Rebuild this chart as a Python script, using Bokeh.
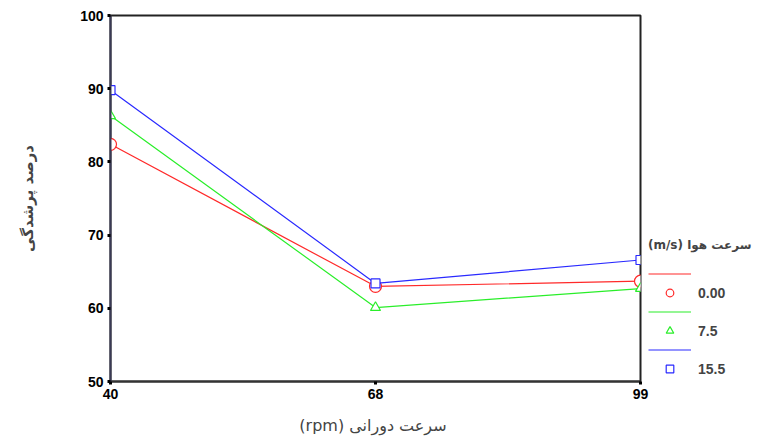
from bokeh.plotting import figure
from bokeh.models import Range1d, Legend, LegendItem, FixedTicker
from bokeh.embed import file_html
from bokeh.resources import INLINE

# data
rpm_labels = ["40", "68", "99"]
x_pos = [0, 1, 2]
air_speeds = ["0.00", "7.5", "15.5"]
fill_00 = [82.4, 63.0, 63.7]
fill_75 = [86.3, 60.1, 62.7]
fill_155 = [89.8, 63.4, 66.6]
series = [fill_00, fill_75, fill_155]
colors = ["#ff2a2a", "#2aee2a", "#2a2aff"]
markers = ["circle", "triangle", "square"]
msizes = [12, 10, 9]
y_ticks = [50, 60, 70, 80, 90, 100]

p = figure(frame_width=530, frame_height=366, output_backend="svg", toolbar_location=None,
           x_range=Range1d(0, 2), y_range=Range1d(50, 100),
           min_border_left=110, min_border_right=0, min_border_top=15, min_border_bottom=51)

p.grid.visible = False
p.outline_line_color = "#222222"
p.outline_line_width = 2

p.xaxis.ticker = FixedTicker(ticks=x_pos)
p.xaxis.major_label_overrides = {i: s for i, s in zip(x_pos, rpm_labels)}
p.yaxis.ticker = FixedTicker(ticks=y_ticks)
for ax in (p.xaxis, p.yaxis):
    ax.minor_tick_line_color = None
    ax.major_tick_in = 0
    ax.major_tick_out = 3
    ax.major_tick_line_width = 3
    ax.major_tick_line_color = "#000000"
    ax.axis_line_color = "#333333"
    ax.axis_line_width = 2
    ax.major_label_text_font = "Liberation Sans"
    ax.major_label_text_font_style = "bold"
    ax.major_label_text_font_size = "14px"
    ax.major_label_text_color = "#000000"
    ax.major_label_standoff = 4
p.yaxis.axis_line_color = "#3a3a55"

p.xaxis.axis_label = "(rpm)  سرعت دورانی"
p.xaxis.axis_label_text_font = "DejaVu Sans"
p.xaxis.axis_label_text_font_style = "normal"
p.xaxis.axis_label_text_font_size = "16px"
p.xaxis.axis_label_standoff = 14

p.yaxis.axis_label = "درصد پرشدگی"
p.yaxis.axis_label_text_font = "DejaVu Sans"
p.yaxis.axis_label_text_font_style = "bold"
p.yaxis.axis_label_text_font_size = "15px"
p.yaxis.axis_label_standoff = 40

items = []
for vals, c, m, s, lab in zip(series, colors, markers, msizes, air_speeds):
    lr = p.line(x_pos, vals, line_color=c, line_width=1.2)
    sr = p.scatter(x_pos, vals, marker=m, size=s, line_color=c, fill_color="white", line_width=1.2)
    items.append(LegendItem(label=" ", renderers=[lr]))
    items.append(LegendItem(label=lab, renderers=[sr]))

legend = Legend(items=items, location=(8, 3), margin=0, padding=2,
                glyph_width=43, glyph_height=19, label_height=19, spacing=0,
                label_standoff=7, label_text_font="Liberation Sans",
                label_text_font_style="bold", label_text_font_size="14px",
                label_text_baseline="top",
                title="(m/s) سرعت هوا", title_text_font="DejaVu Sans",
                title_text_font_style="bold", title_text_font_size="12px",
                title_standoff=12,
                border_line_color=None, background_fill_alpha=0)
p.add_layout(legend, "right")

open("out.html", "w").write(file_html(p, INLINE))
